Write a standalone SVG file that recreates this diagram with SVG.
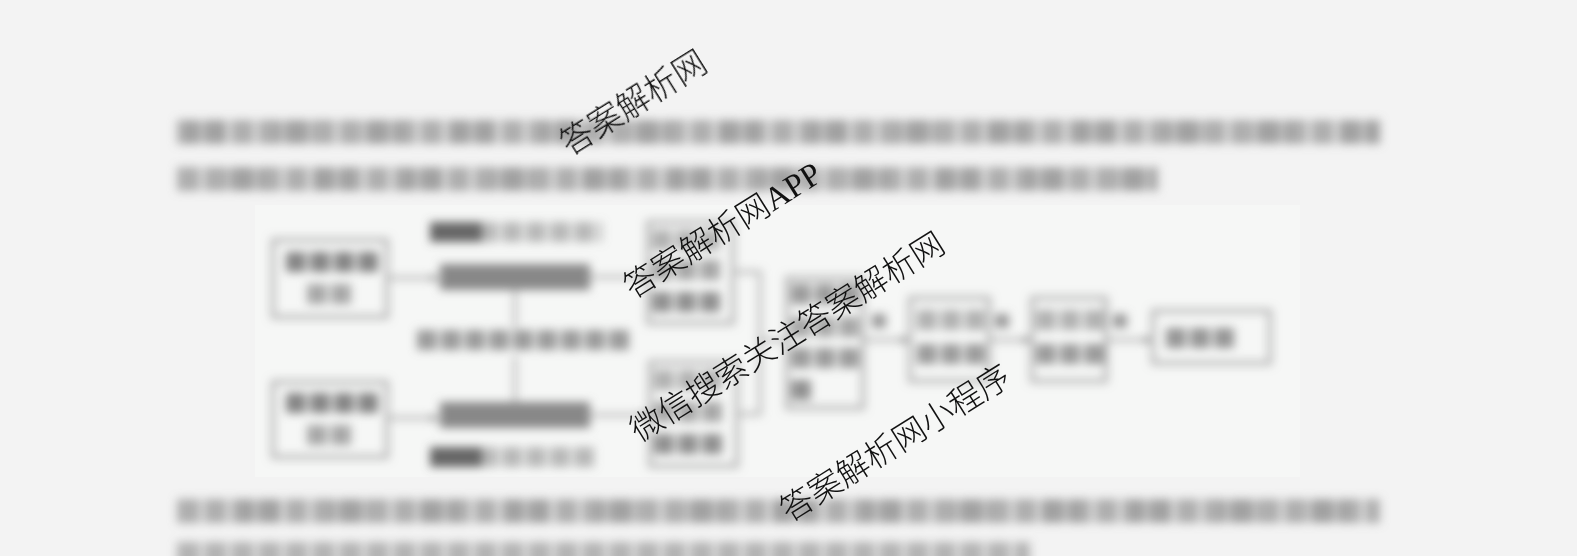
<svg xmlns="http://www.w3.org/2000/svg" width="1577" height="556" viewBox="0 0 1577 556">
<defs>
<filter id="blur" x="-10%" y="-10%" width="120%" height="120%"><feGaussianBlur stdDeviation="5"/></filter>
<pattern id="chars" x="0" y="0" width="27" height="200" patternUnits="userSpaceOnUse"><rect x="2" y="2" width="23" height="24" fill="#8a8a8a"/></pattern>
<pattern id="charsV" x="0" y="0" width="89" height="200" patternUnits="userSpaceOnUse"><rect x="10" y="3" width="40" height="22" fill="#777"/></pattern>
<pattern id="charsS" x="0" y="0" width="24" height="200" patternUnits="userSpaceOnUse"><rect x="2" y="2" width="20" height="20" fill="#858585"/></pattern>
<marker id="ah" markerWidth="8" markerHeight="8" refX="7" refY="4" orient="auto" markerUnits="userSpaceOnUse"><path d="M0,0 L8,4 L0,8 z" fill="#888"/></marker>
</defs>
<style>
.box{fill:none;stroke:#a5a5a5;stroke-width:3.5}
.bar{fill:#888}
.ln{stroke:#999;stroke-width:2.5;fill:none}
.t{fill:url(#chars)}
.tv{fill:url(#charsV)}
.ts{fill:url(#charsS)}
.wm{font-family:"Liberation Serif","Noto Sans CJK SC",serif;font-size:33px;font-weight:300;fill:#111}
</style>
<rect width="1577" height="556" fill="#f3f3f3"/>
<rect x="255" y="205" width="1045" height="272" fill="#f6f7f6"/>
<g filter="url(#blur)">
<g id="question-text">
<rect class="t" transform="translate(175,118)" width="1205" height="28" opacity="0.65"/>
<rect class="tv" transform="translate(175,118)" width="1205" height="28" opacity="0.25"/>
<rect class="t" transform="translate(175,165)" width="983" height="28" opacity="0.65"/>
<rect class="tv" transform="translate(215,165)" width="943" height="28" opacity="0.25"/>
<rect class="t" transform="translate(175,497)" width="1205" height="28" opacity="0.65"/>
<rect class="tv" transform="translate(230,497)" width="1150" height="28" opacity="0.25"/>
<rect class="t" transform="translate(175,540)" width="855" height="28" opacity="0.6"/>
</g>
<g id="connectors">
<line class="ln" x1="387" y1="278" x2="438" y2="278" marker-end="url(#ah)"/>
<line class="ln" x1="387" y1="418" x2="438" y2="418" marker-end="url(#ah)"/>
<line class="ln" x1="515" y1="290" x2="515" y2="328"/>
<line class="ln" x1="515" y1="356" x2="515" y2="402"/>
<line class="ln" x1="590" y1="277" x2="646" y2="277" marker-end="url(#ah)"/>
<line class="ln" x1="590" y1="415" x2="648" y2="415" marker-end="url(#ah)"/>
<path class="ln" d="M733,272 H760 V414 H737 M760,340 H785"/>
<line class="ln" x1="863" y1="340" x2="908" y2="340" marker-end="url(#ah)"/>
<line class="ln" x1="989" y1="340" x2="1030" y2="340" marker-end="url(#ah)"/>
<line class="ln" x1="1106" y1="340" x2="1151" y2="340" marker-end="url(#ah)"/>
<rect x="872" y="314" width="14" height="14" fill="#999"/>
<rect x="995" y="314" width="14" height="14" fill="#999"/>
<rect x="1113" y="314" width="14" height="14" fill="#999"/>
</g>
<g id="node-plant-a">
<rect class="box" x="273" y="240" width="114" height="77"/>
<rect class="ts" transform="translate(284,250)" width="96" height="24"/>
<rect class="ts" transform="translate(305,282)" width="50" height="24" opacity="0.7"/>
</g>
<g id="node-plant-b">
<rect class="box" x="273" y="382" width="114" height="75"/>
<rect class="ts" transform="translate(284,391)" width="96" height="24"/>
<rect class="ts" transform="translate(305,423)" width="50" height="24" opacity="0.7"/>
</g>
<g id="node-bar-a">
<rect class="ts" transform="translate(428,220)" width="174" height="24" opacity="0.55"/>
<rect x="430" y="222" width="52" height="20" fill="#666"/>
<rect class="bar" x="440" y="264" width="150" height="26"/>
</g>
<g id="node-middle">
<rect class="ts" transform="translate(415,328)" width="214" height="26" opacity="0.8"/>
</g>
<g id="node-bar-b">
<rect class="bar" x="440" y="402" width="150" height="26"/>
<rect class="ts" transform="translate(428,445)" width="170" height="24" opacity="0.55"/>
<rect x="430" y="447" width="52" height="20" fill="#666"/>
</g>
<g id="node-r1">
<rect class="box" x="648" y="222" width="85" height="101"/>
<rect class="ts" transform="translate(650,228)" width="72" height="24" opacity="0.6"/>
<rect class="ts" transform="translate(650,258)" width="72" height="24" opacity="0.7"/>
<rect class="ts" transform="translate(650,290)" width="72" height="24" opacity="0.9"/>
</g>
<g id="node-r2">
<rect class="box" x="650" y="362" width="87" height="104"/>
<rect class="ts" transform="translate(652,368)" width="72" height="24" opacity="0.6"/>
<rect class="ts" transform="translate(652,400)" width="72" height="24" opacity="0.7"/>
<rect class="ts" transform="translate(652,432)" width="72" height="24" opacity="0.9"/>
</g>
<g id="node-fusion">
<rect class="box" x="787" y="278" width="76" height="130"/>
<rect class="ts" transform="translate(789,282)" width="72" height="24" opacity="0.8"/>
<rect class="ts" transform="translate(789,315)" width="72" height="24" opacity="0.7"/>
<rect class="ts" transform="translate(789,346)" width="72" height="24" opacity="0.8"/>
<rect class="ts" transform="translate(789,378)" width="24" height="24" opacity="0.9"/>
</g>
<g id="node-step4">
<rect class="box" x="910" y="298" width="79" height="83"/>
<rect class="ts" transform="translate(915,308)" width="72" height="24" opacity="0.6"/>
<rect class="ts" transform="translate(915,342)" width="72" height="24" opacity="0.8"/>
</g>
<g id="node-step5">
<rect class="box" x="1032" y="298" width="74" height="83"/>
<rect class="ts" transform="translate(1034,308)" width="72" height="24" opacity="0.6"/>
<rect class="ts" transform="translate(1034,342)" width="72" height="24" opacity="0.8"/>
</g>
<g id="node-result">
<rect class="box" x="1153" y="311" width="117" height="52"/>
<rect class="ts" transform="translate(1164,326)" width="72" height="24" opacity="0.85"/>
</g>
</g>
<g id="watermarks">
<text class="wm" transform="translate(569.3,156.1) rotate(-32)">答案解析网</text>
<text class="wm" transform="translate(632.7,299.4) rotate(-32)">答案解析网APP</text>
<text class="wm" transform="translate(639.3,442.7) rotate(-32)">微信搜索关注答案解析网</text>
<text class="wm" transform="translate(789.3,522.7) rotate(-32)">答案解析网小程序</text>
</g>
</svg>
